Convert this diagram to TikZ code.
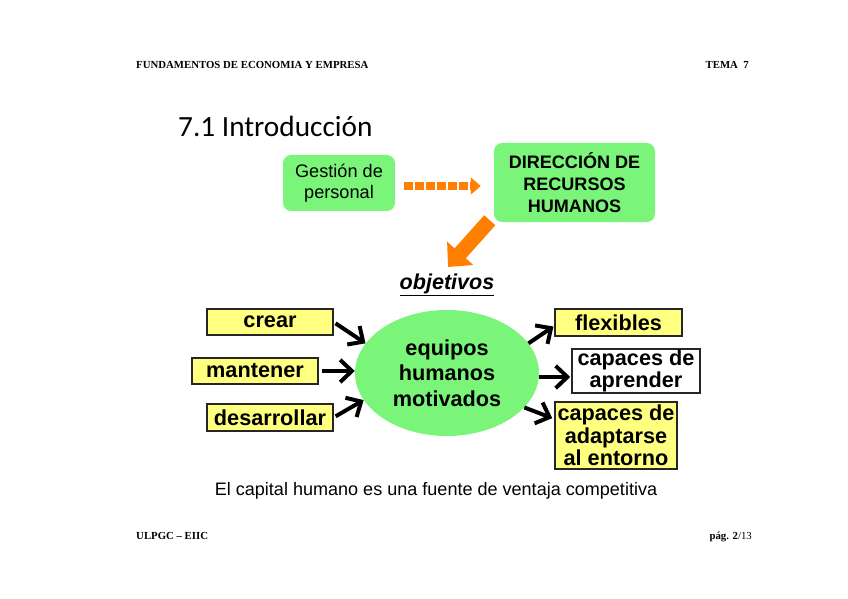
\documentclass[tikz,border=0pt]{standalone}
\usepackage{fontspec}
\usepackage{xcolor}
\setmainfont{Liberation Sans}
\newfontfamily\slidetimes{Liberation Serif}
\newfontfamily\slidecalibri{Carlito}
\usetikzlibrary{arrows.meta,shapes.geometric}
\definecolor{slidegreen}{RGB}{122,245,122}
\definecolor{slideyellow}{RGB}{255,255,128}
\definecolor{slideorange}{RGB}{255,128,0}

\begin{document}
\begin{tikzpicture}[x=0.03cm, y=-0.03cm,
    greenbox/.style={fill=slidegreen, rounded corners=7pt, align=center, inner sep=0pt},
    goalbox/.style={draw=black!85, line width=1pt, fill=slideyellow, align=center, inner sep=0pt,
      font=\fontsize{18.5}{19}\selectfont\bfseries},
    goalarrow/.style={line width=3.4pt, -{Straight Barb[length=10pt, width=19pt]}},
    pagefont/.style={inner sep=0pt, font=\slidetimes\bfseries\fontsize{9.2}{11}\selectfont}]
    \useasboundingbox (0,0) rectangle (848,599);

    % header and footer
    \node[pagefont, anchor=base west] (hdrleft) at (136,69) {FUNDAMENTOS DE ECONOMIA Y EMPRESA};
    \node[pagefont, anchor=base east] (hdrright) at (749,69) {TEMA\ \ 7};
    \node[pagefont, anchor=base west] (ftrleft) at (136,539) {ULPGC – EIIC};
    \node[pagefont, anchor=base east] (ftrright) at (752,539) {pág. 2\textmd{/13}};

    % title
    \node[anchor=base west, inner sep=0pt, font=\slidecalibri\fontsize{25}{30}\selectfont] (title) at (178,137) {7.1 Introducción};

    % from personnel management to HR
    \node[greenbox, minimum width=3.36cm, minimum height=1.68cm, font=\fontsize{15.5}{18}\selectfont] (gestion) at (339,183) {Gestión de\\personal};
    \node[greenbox, minimum width=4.83cm, minimum height=2.37cm, font=\fontsize{15.4}{18.7}\selectfont\bfseries] (direccion) at (574.5,182.5) {DIRECCIÓN DE\\RECURSOS\\HUMANOS};
    \draw[slideorange, line width=0.25cm, dash pattern=on 0.25cm off 0.08cm,
      shorten <=0.27cm, shorten >=0.39cm, -{Triangle[length=0.3cm, width=0.5cm]}]
      ([yshift=-0.09cm]gestion.east) -- ([yshift=-0.09cm]gestion.east -| direccion.west);
    \coordinate (objtop) at (448,267);
    \draw[slideorange, line width=0.45cm, -{Triangle[length=0.55cm, width=1.02cm]}] ([shift={(-4,-2)}]direccion.south west) -- (objtop);

    \node[font=\fontsize{18.4}{20}\selectfont\bfseries\itshape] (objetivos) at (447,285) {\underline{objetivos}};

    % central ellipse
    \node[ellipse, fill=slidegreen, minimum width=5.52cm, minimum height=3.78cm, inner sep=0pt, align=center,
      font=\fontsize{18.5}{21.7}\selectfont\bfseries] (equipos) at (447,373) {equipos\\humanos\\motivados};

    % left: actions
    \node[goalbox, minimum width=3.78cm, minimum height=0.78cm] (crear) at (270,322) {crear};
    \node[goalbox, minimum width=3.78cm, minimum height=0.78cm] (mantener) at (255,371) {mantener};
    \node[goalbox, minimum width=3.78cm, minimum height=0.81cm] (desarrollar) at (270,417.5) {desarrollar};

    % right: qualities
    \node[goalbox, minimum width=3.81cm, minimum height=0.81cm] (flexibles) at (618.5,322.5) {flexibles};
    \node[goalbox, fill=white, minimum width=3.84cm, minimum height=1.32cm] (aprender) at (636,371) {capaces de\\aprender};
    \node[goalbox, minimum width=3.66cm, minimum height=2.01cm] (adaptarse) at (616,435.5) {capaces de\\adaptarse\\al entorno};

    \draw[goalarrow, shorten <=2pt] (crear.east) -- (equipos.160);
    \draw[goalarrow, shorten <=3pt] (mantener.east) -- (mantener.east -| equipos.west);
    \draw[goalarrow, shorten <=2pt] (desarrollar.east) -- (equipos.198);
    \draw[goalarrow, shorten >=1pt] (equipos.20) -- (flexibles.183);
    \draw[goalarrow, shorten >=1pt] ([yshift=-0.12cm]equipos.east) -- ([yshift=-0.12cm]equipos.east -| aprender.west);
    \draw[goalarrow, shorten >=2pt] (equipos.-24) -- (adaptarse.165);

    \node[font=\fontsize{15.4}{18}\selectfont] (capital) at (436,491) {El capital humano es una fuente de ventaja competitiva};
\end{tikzpicture}
\end{document}
